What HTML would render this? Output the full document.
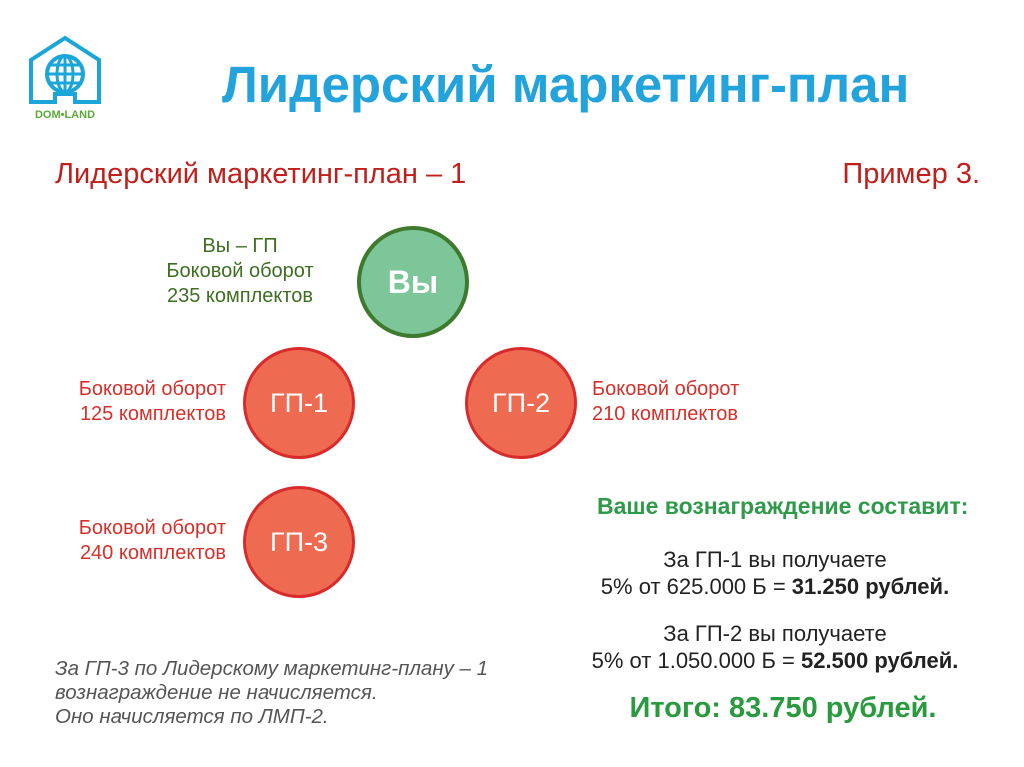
<!DOCTYPE html>
<html><head><meta charset="utf-8"><style>
body{margin:0;width:1024px;height:767px;background:#fff;position:relative;overflow:hidden;font-family:"Liberation Sans","Noto Sans CJK SC",sans-serif}
.a{position:absolute;white-space:nowrap}
.c{position:absolute;border-radius:50%;box-sizing:border-box;display:flex;align-items:center;justify-content:center;color:#fff;font-size:27px}
.r{background:#ee6a50;border:3px solid #d92b2b}
.t{font-size:20px;line-height:25px}
.red{color:#d6302a}
.g{color:#3f6e22}
.m{font-size:22px;line-height:27px;color:#222;text-align:center}
</style></head><body>
<svg class="a" style="left:25px;top:32px" width="80" height="92" viewBox="0 0 80 92">
<path d="M6 70 V28 L40 6 L74 28 V70 H50 V62 H30 V70 Z" fill="none" stroke="#1aa6d8" stroke-width="4"/>
<circle cx="40" cy="42" r="18" fill="none" stroke="#1aa6d8" stroke-width="4"/>
<ellipse cx="40" cy="42" rx="8" ry="18" fill="none" stroke="#1aa6d8" stroke-width="3"/>
<path d="M22 42 H58 M25 33 H55 M25 51 H55 M40 24 V60" stroke="#1aa6d8" stroke-width="3"/>
<text x="40" y="86" font-size="11" font-family="Liberation Sans" fill="#5aaa3a" text-anchor="middle" font-weight="bold">DOM•LAND</text>
</svg>
<div class="a" style="left:222px;top:55px;font-size:51px;font-weight:bold;color:#23a3dc">Лидерский маркетинг-план</div>
<div class="a" style="left:55px;top:158px;font-size:29px;color:#c0201c">Лидерский маркетинг-план – 1</div>
<div class="a" style="right:44px;top:158px;font-size:29px;color:#c0201c">Пример 3.</div>
<div class="a t g" style="left:140px;top:234px;width:200px;text-align:center">Вы – ГП<br>Боковой оборот<br>235 комплектов</div>
<div class="c" style="left:357px;top:226px;width:112px;height:112px;background:#7cc69a;border:4px solid #3e7a2e;font-size:32px;font-weight:bold">Вы</div>
<div class="a t red" style="left:26px;top:377px;width:200px;text-align:right">Боковой оборот<br>125 комплектов</div>
<div class="c r" style="left:243px;top:347px;width:112px;height:112px">ГП-1</div>
<div class="c r" style="left:465px;top:347px;width:112px;height:112px">ГП-2</div>
<div class="a t red" style="left:592px;top:377px;width:200px">Боковой оборот<br>210 комплектов</div>
<div class="a t red" style="left:26px;top:516px;width:200px;text-align:right">Боковой оборот<br>240 комплектов</div>
<div class="c r" style="left:243px;top:486px;width:112px;height:112px">ГП-3</div>
<div class="a" style="left:597px;top:493px;font-size:23px;font-weight:bold;color:#2e9a4a">Ваше вознаграждение составит:</div>
<div class="a m" style="left:575px;top:546px;width:400px">За ГП-1 вы получаете<br>5% от 625.000 Б = <b>31.250 рублей.</b></div>
<div class="a m" style="left:575px;top:620px;width:400px">За ГП-2 вы получаете<br>5% от 1.050.000 Б = <b>52.500 рублей.</b></div>
<div class="a" style="left:583px;top:692px;width:400px;text-align:center;font-size:29px;font-weight:bold;color:#2a9a3e">Итого: 83.750 рублей.</div>
<div class="a" style="left:55px;top:657px;font-size:20.5px;line-height:24px;font-style:italic;color:#555">За ГП-3 по Лидерскому маркетинг-плану – 1<br>вознаграждение не начисляется.<br>Оно начисляется по ЛМП-2.</div>
</body></html>
